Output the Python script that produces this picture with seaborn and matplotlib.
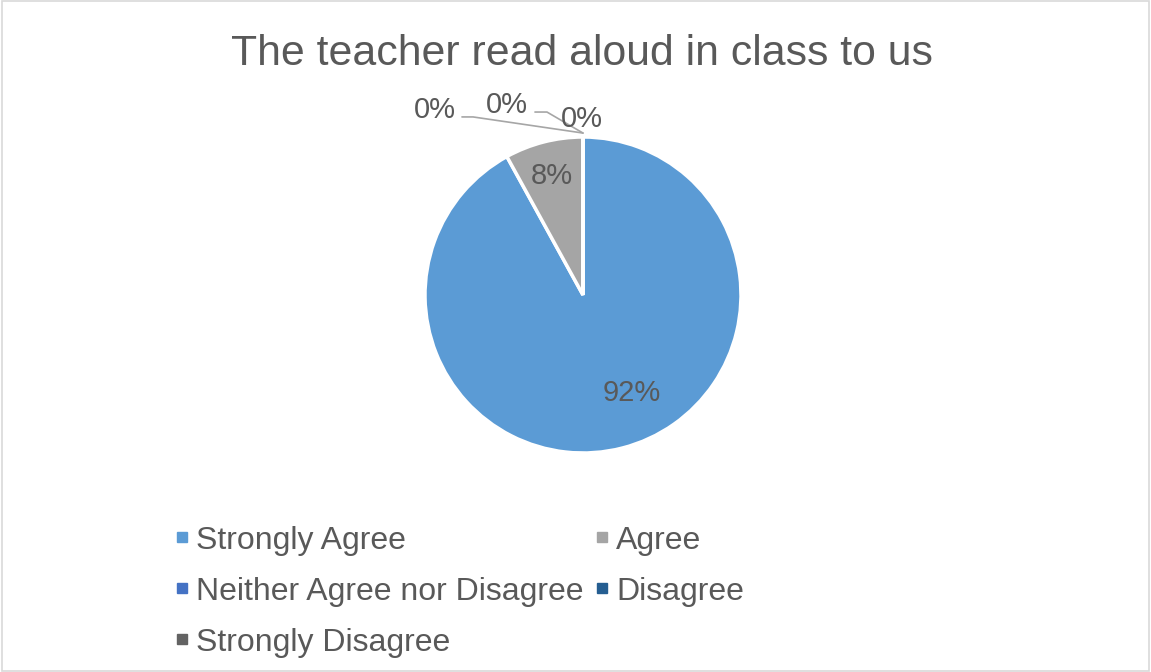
import matplotlib.pyplot as plt
import seaborn as sns
from matplotlib.lines import Line2D
from matplotlib.patches import Rectangle

categories = ["Strongly Agree", "Agree", "Neither Agree nor Disagree", "Disagree", "Strongly Disagree"]
shares = [92, 8, 0, 0, 0]
pct_labels = ["92%", "8%", "0%", "0%", "0%"]
colors = ["#5B9BD5", "#A5A5A5", "#4472C4", "#255E91", "#636363"]

sns.set_theme(style="white")
plt.rcParams["font.family"] = ["Liberation Sans", "DejaVu Sans"]
txt = "#595959"
lead = "#A6A6A6"
palette = sns.color_palette(colors)

fig = plt.figure(figsize=(11.51, 6.72), dpi=100)
fig.patches.append(Rectangle((0.002, 0.002), 0.996, 0.996, transform=fig.transFigure,
                             fill=False, edgecolor="#D9D9D9", linewidth=1.2))

# pie axes: centre ~(583, 295) px, radius ~158 px
W, H = 1151, 672
cx, cy, r = 583, 295, 158
ax = fig.add_axes([(cx - r) / W, (H - cy - r) / H, 2 * r / W, 2 * r / H])
wedges, _ = ax.pie(shares, colors=palette, startangle=90, counterclock=False,
                   wedgeprops=dict(edgecolor="white", linewidth=2.5))
ax.set_xlim(-1, 1)
ax.set_ylim(-1, 1)
ax.set_aspect("equal")
ax.axis("off")

# data labels
ax.text(0.31, -0.62, pct_labels[0], fontsize=21, color=txt, ha="center", va="center")
ax.text(-0.20, 0.75, pct_labels[1], fontsize=21, color=txt, ha="center", va="center")

# leader lines for the zero slices
ax.plot([0, -0.696, -0.766], [1.025, 1.127, 1.127], color=lead, lw=1.2, clip_on=False)
ax.plot([0, -0.228, -0.304], [1.025, 1.158, 1.158], color=lead, lw=1.2, clip_on=False)
ax.text(-0.937, 1.17, pct_labels[2], fontsize=21, color=txt, ha="center", va="center")
ax.text(-0.481, 1.20, pct_labels[3], fontsize=21, color=txt, ha="center", va="center")
ax.text(-0.01, 1.115, pct_labels[4], fontsize=21, color=txt, ha="center", va="center")

fig.text(0.506, 0.92, "The teacher read aloud in class to us", fontsize=30.8,
         color=txt, ha="center", va="center")

handles = [Line2D([], [], marker="s", linestyle="", markersize=7.5,
                  markerfacecolor=c, markeredgecolor=c) for c in colors]
order = [0, 2, 4, 1, 3]
fig.legend([handles[i] for i in order], [categories[i] for i in order],
           loc="upper left", bbox_to_anchor=(0.141, 0.237), ncol=2,
           frameon=False, fontsize=23, labelcolor=txt, handlelength=0.45,
           handletextpad=0.2, columnspacing=0.37, labelspacing=0.66,
           borderaxespad=0)

fig.savefig("out.png", dpi=100)
